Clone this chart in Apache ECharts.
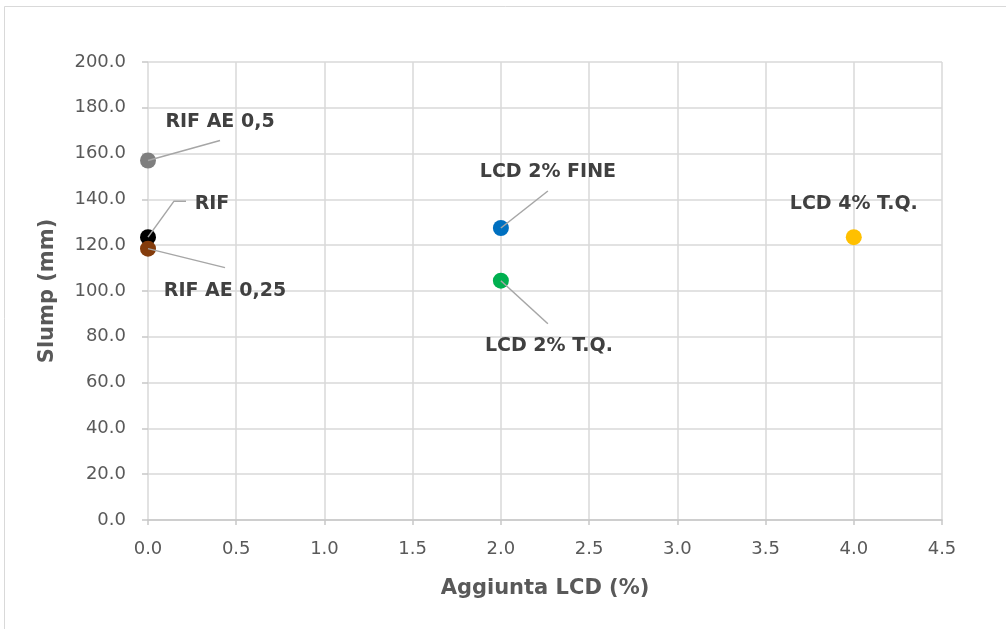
<!DOCTYPE html>
<html>
<head>
<meta charset="utf-8">
<script src="https://cdn.jsdelivr.net/npm/echarts@6/dist/echarts.min.js"></script>
<style>
html,body{margin:0;padding:0;background:#fff;}
#c{width:1006px;height:629px;}
</style>
</head>
<body>
<div id="c"></div>
<script>
// ---- data ----
const pointNames = ['RIF AE 0,5', 'RIF', 'RIF AE 0,25', 'LCD 2% FINE', 'LCD 2% T.Q.', 'LCD 4% T.Q.'];
const lcdAddition = [0, 0, 0, 2, 2, 4];
const slumpMm = [157, 123.5, 118.5, 127.5, 104.5, 123.5];
const xAxisTitle = 'Aggiunta LCD (%)';
const yAxisTitle = 'Slump (mm)';

// ---- styling / layout (pixel offsets relative to each point) ----
const pointColors = ['#7f7f7f', '#000000', '#843c0c', '#0070c0', '#00b050', '#ffc000'];
const labelShift = [[72, -38], [64, -33], [77, 42], [47, -56], [48, 65], [0, -33]];
const leaderBends = [
  [[72, -20]],
  [[26, -36], [38, -36]],
  [[77, 19]],
  [[47, -37]],
  [[47, 43]],
  []
];

const data = pointNames.map((n, i) => ({
  name: n,
  value: [lcdAddition[i], slumpMm[i]],
  itemStyle: { color: pointColors[i], opacity: 1 }
}));

const chart = echarts.init(document.getElementById('c'), null, { renderer: 'canvas' });
const tickFont = { fontFamily: 'DejaVu Sans', fontSize: 18, color: '#595959' };

chart.setOption({
  animation: false,
  backgroundColor: '#ffffff',
  grid: { left: 148, right: 64, top: 62, bottom: 109 },
  xAxis: {
    type: 'value', min: 0, max: 4.5, interval: 0.5,
    name: xAxisTitle, nameLocation: 'middle', nameGap: 58,
    nameTextStyle: { fontFamily: 'DejaVu Sans', fontSize: 21, fontWeight: 'bold', color: '#595959' },
    axisLine: { show: true, onZero: false, lineStyle: { color: '#c8c8c8', width: 1.5 } },
    axisTick: { show: true, length: 5, lineStyle: { color: '#c8c8c8', width: 1.5 } },
    axisLabel: Object.assign({ margin: 20, formatter: v => v.toFixed(1) }, tickFont),
    splitLine: { show: true, lineStyle: { color: '#d9d9d9', width: 1.5 } }
  },
  yAxis: {
    type: 'value', min: 0, max: 200, interval: 20,
    name: yAxisTitle, nameLocation: 'middle', nameGap: 90, nameRotate: 90,
    nameTextStyle: { fontFamily: 'DejaVu Sans', fontSize: 21, fontWeight: 'bold', color: '#595959' },
    axisLine: { show: false },
    axisTick: { show: true, length: 6, lineStyle: { color: '#c8c8c8', width: 1.5 } },
    axisLabel: Object.assign({ margin: 22, formatter: v => v.toFixed(1) }, tickFont),
    splitLine: { show: true, lineStyle: { color: '#d9d9d9', width: 1.5 } }
  },
  series: [{
    type: 'scatter',
    symbol: 'circle',
    symbolSize: 16,
    data: data,
    itemStyle: { opacity: 1 },
    emphasis: { disabled: true },
    label: {
      show: true,
      position: 'inside',
      formatter: p => p.name,
      fontFamily: 'DejaVu Sans',
      fontSize: 19,
      fontWeight: 'bold',
      color: '#404040',
      align: 'center',
      verticalAlign: 'middle'
    },
    labelLayout: p => ({ dx: labelShift[p.dataIndex][0], dy: labelShift[p.dataIndex][1] })
  }]
});

// leader lines anchored at each point's pixel position (through the chart's scales)
const graphics = [{
  type: 'rect',
  shape: { x: 4.5, y: 6.5, width: 1010, height: 640 },
  style: { fill: 'none', stroke: '#d9d9d9', lineWidth: 1 },
  silent: true, z: 0
}];
pointNames.forEach((n, i) => {
  if (!leaderBends[i].length) return;
  const p = chart.convertToPixel({ seriesIndex: 0 }, [lcdAddition[i], slumpMm[i]]);
  const pts = [p].concat(leaderBends[i].map(o => [p[0] + o[0], p[1] + o[1]]));
  graphics.push({
    type: 'polyline',
    shape: { points: pts },
    style: { stroke: '#a6a6a6', lineWidth: 1.5, fill: 'none' },
    silent: true, z: 10
  });
});
chart.setOption({ graphic: graphics });
</script>
</body>
</html>
